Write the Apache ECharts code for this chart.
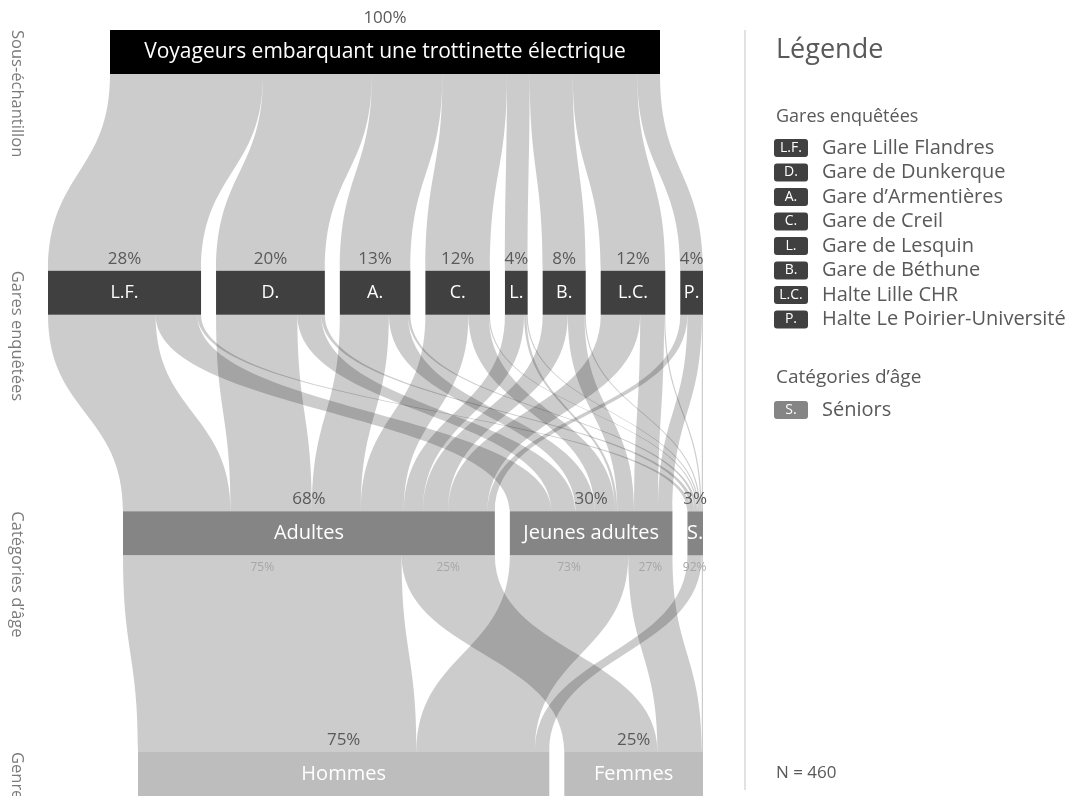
<!DOCTYPE html>
<html>
<head>
<meta charset="utf-8">
<script src="https://cdn.jsdelivr.net/npm/echarts@6/dist/echarts.min.js"></script>
<style>
  html, body { margin: 0; background: #fff; }
  #chart { width: 1072px; height: 796px; }
</style>
</head>
<body>
<div id="chart"></div>
<script>
// Niveaux du diagramme
const levelTitles = ['Sous-échantillon', 'Gares enquêtées', 'Catégories d’âge', 'Genre'];
const rootName = 'Voyageurs embarquant une trottinette électrique';
const stations = ['L.F.', 'D.', 'A.', 'C.', 'L.', 'B.', 'L.C.', 'P.'];
const stationNames = ['Gare Lille Flandres', 'Gare de Dunkerque', 'Gare d’Armentières', 'Gare de Creil',
  'Gare de Lesquin', 'Gare de Béthune', 'Halte Lille CHR', 'Halte Le Poirier-Université'];
const ages = ['Adultes', 'Jeunes adultes', 'S.'];
const ageLegendCodes = ['S.'];
const ageLegendNames = ['Séniors'];
const genders = ['Hommes', 'Femmes'];

// Effectifs gare -> catégorie d'âge (Adultes, Jeunes adultes, S.)
const stationToAge = [
  [90, 35, 3],
  [68, 20, 3],
  [41, 16, 2],
  [36, 17, 1],
  [16, 2, 1],
  [21, 14, 1],
  [33, 20, 1],
  [6, 12, 1]
];
// Effectifs catégorie d'âge -> genre (Hommes, Femmes)
const ageToGender = [
  [233, 78],
  [99, 37],
  [12, 1]
];
const total = 460;

// mise en page
const LEFT = 48, TOP = 30, WIDTH = 655, HEIGHT = 766;
const NODE_W = 44, GAP = 15;
const ROOT_SHIFT = 62;
const FONT = '"Open Sans", "Noto Sans", sans-serif';
const nodeColors = ['#000000', '#404040', '#858585', '#bdbdbd'];
const textColor = '#595959';

const k = (WIDTH - (stations.length - 1) * GAP) / total;
const levelStep = (HEIGHT - NODE_W) / (levelTitles.length - 1);

const stationTotals = stationToAge.map(r => r.reduce((a, b) => a + b, 0));
const ageTotals = ages.map((_, j) => stationToAge.reduce((a, r) => a + r[j], 0));
const genderTotals = genders.map((_, g) => ageToGender.reduce((a, r) => a + r[g], 0));

// niveaux alignés à droite
function rightAligned(values) {
  const starts = [];
  let x = WIDTH;
  for (let i = values.length - 1; i >= 0; i--) {
    x -= values[i] * k;
    starts[i] = x;
    x -= GAP;
  }
  return starts;
}
const ageStarts = rightAligned(ageTotals);
const genderStarts = rightAligned(genderTotals);

const totals = {};
totals[rootName] = total;
stations.forEach((s, i) => totals[s] = stationTotals[i]);
ages.forEach((s, i) => totals[s] = ageTotals[i]);
genders.forEach((s, i) => totals[s] = genderTotals[i]);

const nodes = [{ name: rootName, localX: ROOT_SHIFT / WIDTH }]
  .concat(stations.map(s => ({ name: s })))
  .concat(ages.map((s, j) => ({ name: s, localX: ageStarts[j] / WIDTH })))
  .concat(genders.map((s, g) => ({ name: s, localX: genderStarts[g] / WIDTH })));

const links = [];
stations.forEach((s, i) => links.push({ source: rootName, target: s, value: stationTotals[i] }));
stations.forEach((s, i) => {
  ages.forEach((a, j) => {
    if (stationToAge[i][j] > 0) links.push({ source: s, target: a, value: stationToAge[i][j] });
  });
});
// pourcentages sous les catégories d'âge : placés au départ de chaque flux
const genderFill = genders.map(() => 0);
ages.forEach((a, j) => {
  let out = 0;
  genders.forEach((g, gi) => {
    const v = ageToGender[j][gi];
    const x1 = ageStarts[j] + out * k;
    const x2 = genderStarts[gi] + genderFill[gi] * k;
    out += v;
    genderFill[gi] += v;
    links.push({
      source: a, target: g, value: v,
      edgeLabel: {
        show: v >= 5,
        offset: [(x1 - x2) / 2, 12 - (levelStep - NODE_W) / 2]
      }
    });
  });
});

const pct = name => Math.round(100 * totals[name] / total);
const nameSizes = [21, 18, 20, 20];

const chart = echarts.init(document.getElementById('chart'));
chart.setOption({
  animation: false,
  textStyle: { fontFamily: FONT },
  series: [{
    type: 'sankey',
    orient: 'vertical',
    left: LEFT,
    top: TOP,
    width: WIDTH,
    height: HEIGHT,
    nodeWidth: NODE_W,
    nodeGap: GAP,
    layoutIterations: 0,
    draggable: false,
    emphasis: { disabled: true },
    data: nodes,
    links: links,
    itemStyle: { borderWidth: 0 },
    lineStyle: { color: '#000', opacity: 0.2, curveness: 0.5 },
    label: {
      show: true,
      position: 'inside',
      offset: [0, -12]
    },
    edgeLabel: {
      show: false,
      color: '#a6a6a6',
      fontSize: 12,
      fontFamily: FONT,
      formatter: p => Math.round(100 * p.value / totals[p.data.source]) + '%'
    },
    levels: nodeColors.map((c, d) => ({
      depth: d,
      itemStyle: { color: c, borderWidth: 0 },
      label: {
        formatter: p => '{p|' + pct(p.name) + '%}\n{n|' + p.name + '}',
        rich: {
          p: { fontSize: 17, lineHeight: 24, color: textColor, fontFamily: FONT },
          n: { fontSize: nameSizes[d], lineHeight: NODE_W, color: '#fff', fontFamily: FONT }
        }
      },
      edgeLabel: { show: d === 2 }
    }))
  }],
  graphic: [
    // titres des niveaux
    ...levelTitles.map((t, d) => ({
      type: 'text',
      x: 17,
      y: TOP + d * levelStep,
      rotation: -Math.PI / 2,
      style: { text: t, fill: '#7a7a7a', fontSize: 16.5, fontFamily: FONT, align: 'left', verticalAlign: 'middle' }
    })),
    { type: 'line', shape: { x1: 745, y1: 30, x2: 745, y2: 790 }, style: { stroke: '#d9d9d9', lineWidth: 1.5 } },
    { type: 'text', x: 776, y: 50, style: { text: 'Légende', fill: textColor, fontSize: 27, fontFamily: FONT, verticalAlign: 'middle' } },
    { type: 'text', x: 776, y: 117, style: { text: levelTitles[1], fill: textColor, fontSize: 18, fontFamily: FONT, verticalAlign: 'middle' } },
    ...stations.map((s, i) => ({
      type: 'group',
      x: 774,
      y: 148 + i * 24.5,
      children: [
        { type: 'rect', shape: { x: 0, y: -9, width: 34, height: 18, r: 3 }, style: { fill: nodeColors[1] } },
        { type: 'text', x: 17, y: 0, style: { text: s, fill: '#fff', fontSize: 14, fontFamily: FONT, align: 'center', verticalAlign: 'middle' } },
        { type: 'text', x: 48, y: 0, style: { text: stationNames[i], fill: textColor, fontSize: 20, fontFamily: FONT, verticalAlign: 'middle' } }
      ]
    })),
    { type: 'text', x: 776, y: 378, style: { text: levelTitles[2], fill: textColor, fontSize: 19, fontFamily: FONT, verticalAlign: 'middle' } },
    ...ageLegendCodes.map((s, i) => ({
      type: 'group',
      x: 774,
      y: 410 + i * 24.5,
      children: [
        { type: 'rect', shape: { x: 0, y: -9, width: 34, height: 18, r: 3 }, style: { fill: nodeColors[2] } },
        { type: 'text', x: 17, y: 0, style: { text: s, fill: '#fff', fontSize: 14, fontFamily: FONT, align: 'center', verticalAlign: 'middle' } },
        { type: 'text', x: 48, y: 0, style: { text: ageLegendNames[i], fill: textColor, fontSize: 20, fontFamily: FONT, verticalAlign: 'middle' } }
      ]
    })),
    { type: 'text', x: 776, y: 773, style: { text: 'N = ' + total, fill: textColor, fontSize: 17, fontFamily: FONT, verticalAlign: 'middle' } }
  ]
});
</script>
</body>
</html>
